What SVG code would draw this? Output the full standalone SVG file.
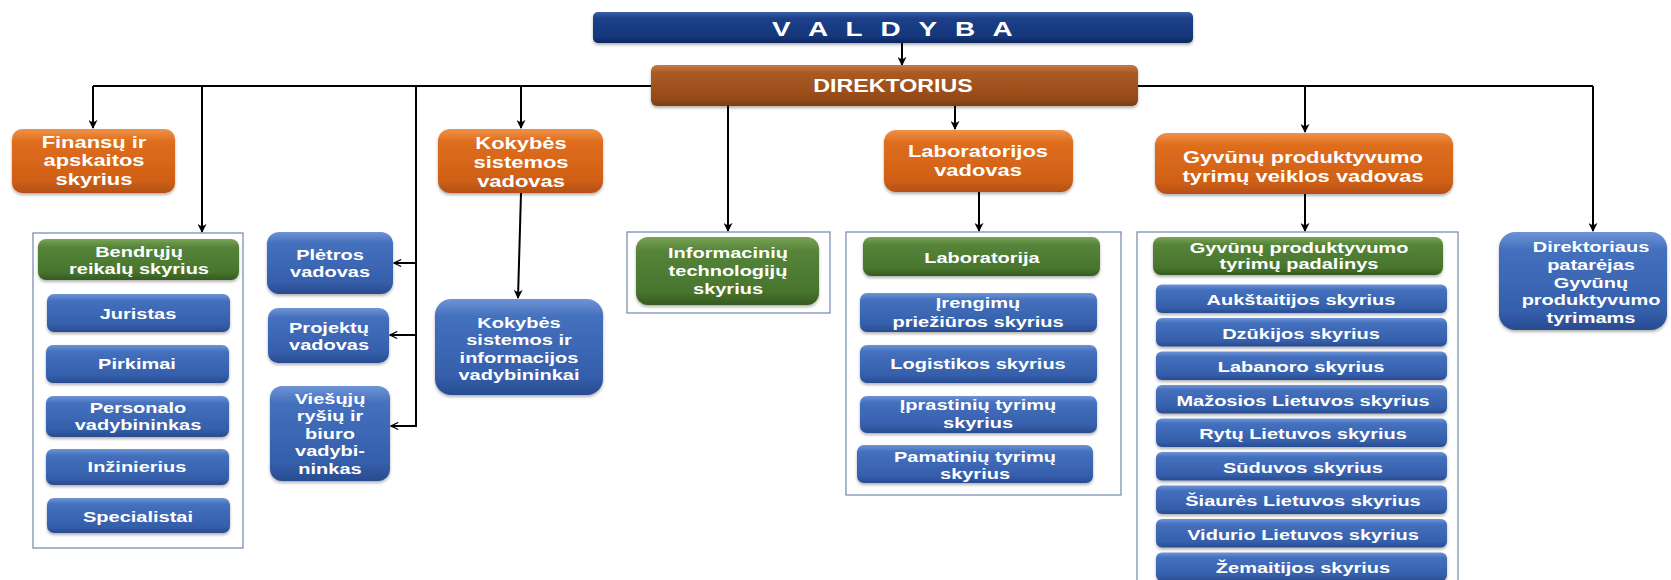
<svg xmlns="http://www.w3.org/2000/svg" width="1671" height="580" viewBox="0 0 1671 580">
<defs>
<style>
.t{font-family:"Liberation Sans",Arial,sans-serif;font-weight:bold;fill:#ffffff;text-anchor:middle;font-size:15.5px}
.tl{font-size:17px}
.blue{fill:url(#gBlue);filter:url(#sh)}
.orange{fill:url(#gOrange);filter:url(#sh)}
.green{fill:url(#gGreen);filter:url(#sh)}
.dir{fill:url(#gDir);filter:url(#sh)}
.val{fill:url(#gVal);filter:url(#sh)}
.cont{fill:#ffffff;stroke:#6f86ad;stroke-width:1.2}
.ln{fill:none;stroke:#000000;stroke-width:2}
</style>
<linearGradient id="gBlue" x1="0" y1="0" x2="0" y2="1">
<stop offset="0" stop-color="#6e94d6"/><stop offset="0.18" stop-color="#4470bd"/><stop offset="0.8" stop-color="#355fab"/><stop offset="1" stop-color="#284c90"/>
</linearGradient>
<linearGradient id="gOrange" x1="0" y1="0" x2="0" y2="1">
<stop offset="0" stop-color="#f0924a"/><stop offset="0.2" stop-color="#de6d1c"/><stop offset="0.8" stop-color="#d06018"/><stop offset="1" stop-color="#b45012"/>
</linearGradient>
<linearGradient id="gGreen" x1="0" y1="0" x2="0" y2="1">
<stop offset="0" stop-color="#7aa355"/><stop offset="0.2" stop-color="#55843a"/><stop offset="0.8" stop-color="#48752d"/><stop offset="1" stop-color="#365b20"/>
</linearGradient>
<linearGradient id="gDir" x1="0" y1="0" x2="0" y2="1">
<stop offset="0" stop-color="#c47a42"/><stop offset="0.2" stop-color="#a95a24"/><stop offset="0.8" stop-color="#974a18"/><stop offset="1" stop-color="#7e3d10"/>
</linearGradient>
<linearGradient id="gVal" x1="0" y1="0" x2="0" y2="1">
<stop offset="0" stop-color="#3a60a8"/><stop offset="0.2" stop-color="#1c408a"/><stop offset="0.8" stop-color="#143679"/><stop offset="1" stop-color="#0c2760"/>
</linearGradient>
<filter id="sh" x="-10%" y="-20%" width="120%" height="150%">
<feDropShadow dx="0" dy="2" stdDeviation="1.5" flood-color="#000000" flood-opacity="0.3"/>
</filter>
<marker id="arr" viewBox="0 0 10 10" refX="9" refY="5" markerUnits="userSpaceOnUse" markerWidth="9" markerHeight="9" orient="auto">
<path d="M0,0 L10,5 L0,10 L3,5 z" fill="#000000"/>
</marker>
<marker id="arrOpen" viewBox="0 0 10 10" refX="9" refY="5" markerUnits="userSpaceOnUse" markerWidth="9" markerHeight="9" orient="auto">
<path d="M1,1 L9,5 L1,9" fill="none" stroke="#000000" stroke-width="1.3"/>
</marker>
</defs>
<rect width="1671" height="580" fill="#ffffff"/>

<g id="connectors">
<path class="ln" d="M902,43 V65" marker-end="url(#arr)"/>
<path class="ln" d="M93,86 H1593"/>
<path class="ln" d="M93,86 V128" marker-end="url(#arr)"/>
<path class="ln" d="M202,86 V232" marker-end="url(#arr)"/>
<path class="ln" d="M416,86 V427"/>
<path class="ln" d="M416,263 H394" marker-end="url(#arrOpen)"/>
<path class="ln" d="M416,335 H390" marker-end="url(#arrOpen)"/>
<path class="ln" d="M416,426 H391" marker-end="url(#arrOpen)"/>
<path class="ln" d="M521,86 V128" marker-end="url(#arr)"/>
<path class="ln" d="M521,193 L518,298" marker-end="url(#arr)"/>
<path class="ln" d="M728,106 V231" marker-end="url(#arr)"/>
<path class="ln" d="M955,106 V129" marker-end="url(#arr)"/>
<path class="ln" d="M979,192 V231" marker-end="url(#arr)"/>
<path class="ln" d="M1305,86 V132" marker-end="url(#arr)"/>
<path class="ln" d="M1305,194 V231" marker-end="url(#arr)"/>
<path class="ln" d="M1593,86 V231" marker-end="url(#arr)"/>
</g>

<g id="valdyba">
<rect class="val" x="593" y="12" width="600" height="31" rx="5"/>
<text class="t" style="font-size:21px;letter-spacing:4px" transform="translate(895,36) scale(1.33,1)">V A L D Y B A</text>
</g>

<g id="direktorius">
<rect class="dir" x="651" y="65" width="487" height="41" rx="6"/>
<text class="t" style="font-size:18px" transform="translate(893,92) scale(1.29,1)">DIREKTORIUS</text>
</g>

<g id="finansu">
<rect class="orange" x="12" y="129" width="163" height="64" rx="10"/>
<text class="t tl" transform="translate(94,148) scale(1.29,1)"><tspan x="0">Finansų ir</tspan><tspan x="0" dy="18.5">apskaitos</tspan><tspan x="0" dy="18.5">skyrius</tspan></text>
</g>

<g id="bendruju-grupe">
<rect class="cont" x="33" y="233" width="210" height="315"/>
</g>
<g id="bendruju">
<rect class="green" x="38" y="239" width="201" height="41" rx="8"/>
<text class="t" transform="translate(139,257) scale(1.29,1)"><tspan x="0">Bendrųjų</tspan><tspan x="0" dy="17.5">reikalų skyrius</tspan></text>
</g>
<g id="juristas">
<rect class="blue" x="47" y="294" width="183" height="38" rx="7"/>
<text class="t" transform="translate(138,319) scale(1.29,1)">Juristas</text>
</g>
<g id="pirkimai">
<rect class="blue" x="46" y="345" width="183" height="38" rx="7"/>
<text class="t" transform="translate(137,369) scale(1.29,1)">Pirkimai</text>
</g>
<g id="personalo">
<rect class="blue" x="46" y="396" width="183" height="41" rx="7"/>
<text class="t" transform="translate(138,413) scale(1.29,1)"><tspan x="0">Personalo</tspan><tspan x="0" dy="17.5">vadybininkas</tspan></text>
</g>
<g id="inzinierius">
<rect class="blue" x="46" y="449" width="183" height="36" rx="7"/>
<text class="t" transform="translate(137,472) scale(1.29,1)">Inžinierius</text>
</g>
<g id="specialistai">
<rect class="blue" x="47" y="498" width="183" height="35" rx="7"/>
<text class="t" transform="translate(138,522) scale(1.29,1)">Specialistai</text>
</g>

<g id="pletros">
<rect class="blue" x="267" y="232" width="126" height="62" rx="12"/>
<text class="t" transform="translate(330,260) scale(1.29,1)"><tspan x="0">Plėtros</tspan><tspan x="0" dy="17">vadovas</tspan></text>
</g>
<g id="projektu">
<rect class="blue" x="268" y="308" width="121" height="55" rx="10"/>
<text class="t" transform="translate(329,333) scale(1.29,1)"><tspan x="0">Projektų</tspan><tspan x="0" dy="17">vadovas</tspan></text>
</g>
<g id="viesuju">
<rect class="blue" x="270" y="386" width="120" height="95" rx="12"/>
<text class="t" transform="translate(330,404) scale(1.29,1)"><tspan x="0">Viešųjų</tspan><tspan x="0" dy="17.5">ryšių ir</tspan><tspan x="0" dy="17.5">biuro</tspan><tspan x="0" dy="17.5">vadybi-</tspan><tspan x="0" dy="17.5">ninkas</tspan></text>
</g>

<g id="kokybes-vadovas">
<rect class="orange" x="438" y="129" width="165" height="64" rx="12"/>
<text class="t tl" transform="translate(521,149) scale(1.29,1)"><tspan x="0">Kokybės</tspan><tspan x="0" dy="19">sistemos</tspan><tspan x="0" dy="19">vadovas</tspan></text>
</g>
<g id="kokybes-vadybininkai">
<rect class="blue" x="435" y="299" width="168" height="96" rx="16"/>
<text class="t" transform="translate(519,328) scale(1.29,1)"><tspan x="0">Kokybės</tspan><tspan x="0" dy="17.5">sistemos ir</tspan><tspan x="0" dy="17.5">informacijos</tspan><tspan x="0" dy="17.5">vadybininkai</tspan></text>
</g>

<g id="it-grupe">
<rect class="cont" x="627" y="232" width="203" height="81"/>
</g>
<g id="it">
<rect class="green" x="636" y="237" width="183" height="68" rx="12"/>
<text class="t" transform="translate(728,258) scale(1.29,1)"><tspan x="0">Informacinių</tspan><tspan x="0" dy="18">technologijų</tspan><tspan x="0" dy="18">skyrius</tspan></text>
</g>

<g id="lab-vadovas">
<rect class="orange" x="884" y="130" width="189" height="62" rx="12"/>
<text class="t tl" transform="translate(978,157) scale(1.29,1)"><tspan x="0">Laboratorijos</tspan><tspan x="0" dy="19">vadovas</tspan></text>
</g>
<g id="lab-grupe">
<rect class="cont" x="846" y="232" width="275" height="263"/>
</g>
<g id="laboratorija">
<rect class="green" x="863" y="237" width="237" height="39" rx="8"/>
<text class="t" transform="translate(982,263) scale(1.29,1)">Laboratorija</text>
</g>
<g id="irengimu">
<rect class="blue" x="860" y="293" width="237" height="39" rx="7"/>
<text class="t" transform="translate(978,308) scale(1.29,1)"><tspan x="0">Įrengimų</tspan><tspan x="0" dy="19">priežiūros skyrius</tspan></text>
</g>
<g id="logistikos">
<rect class="blue" x="860" y="345" width="237" height="38" rx="7"/>
<text class="t" transform="translate(978,369) scale(1.29,1)">Logistikos skyrius</text>
</g>
<g id="iprastiniu">
<rect class="blue" x="860" y="396" width="237" height="37" rx="7"/>
<text class="t" transform="translate(978,410) scale(1.29,1)"><tspan x="0">Įprastinių tyrimų</tspan><tspan x="0" dy="18">skyrius</tspan></text>
</g>
<g id="pamatiniu">
<rect class="blue" x="857" y="445" width="236" height="38" rx="7"/>
<text class="t" transform="translate(975,462) scale(1.29,1)"><tspan x="0">Pamatinių tyrimų</tspan><tspan x="0" dy="17.5">skyrius</tspan></text>
</g>

<g id="gyvunu-vadovas">
<rect class="orange" x="1155" y="133" width="298" height="61" rx="12"/>
<text class="t tl" transform="translate(1303,163) scale(1.29,1)"><tspan x="0">Gyvūnų produktyvumo</tspan><tspan x="0" dy="19">tyrimų veiklos vadovas</tspan></text>
</g>
<g id="gyvunu-grupe">
<rect class="cont" x="1137" y="232" width="321" height="352"/>
</g>
<g id="gyvunu-padalinys">
<rect class="green" x="1153" y="237" width="290" height="38" rx="8"/>
<text class="t" transform="translate(1299,253) scale(1.29,1)"><tspan x="0">Gyvūnų produktyvumo</tspan><tspan x="0" dy="16.5">tyrimų padalinys</tspan></text>
</g>
<g id="aukstaitijos">
<rect class="blue" x="1156" y="284.5" width="291" height="28.5" rx="6"/>
<text class="t" transform="translate(1301,305) scale(1.29,1)">Aukštaitijos skyrius</text>
</g>
<g id="dzukijos">
<rect class="blue" x="1156" y="318" width="291" height="28.5" rx="6"/>
<text class="t" transform="translate(1301,338.5) scale(1.29,1)">Dzūkijos skyrius</text>
</g>
<g id="labanoro">
<rect class="blue" x="1156" y="351.5" width="291" height="28.5" rx="6"/>
<text class="t" transform="translate(1301,372) scale(1.29,1)">Labanoro skyrius</text>
</g>
<g id="mazosios">
<rect class="blue" x="1156" y="385" width="291" height="28.5" rx="6"/>
<text class="t" transform="translate(1303,405.5) scale(1.29,1)">Mažosios Lietuvos skyrius</text>
</g>
<g id="rytu">
<rect class="blue" x="1156" y="418.5" width="291" height="28.5" rx="6"/>
<text class="t" transform="translate(1303,439) scale(1.29,1)">Rytų Lietuvos skyrius</text>
</g>
<g id="suduvos">
<rect class="blue" x="1156" y="452" width="291" height="28.5" rx="6"/>
<text class="t" transform="translate(1303,472.5) scale(1.29,1)">Sūduvos skyrius</text>
</g>
<g id="siaures">
<rect class="blue" x="1156" y="485.5" width="291" height="28.5" rx="6"/>
<text class="t" transform="translate(1303,506) scale(1.29,1)">Šiaurės Lietuvos skyrius</text>
</g>
<g id="vidurio">
<rect class="blue" x="1156" y="519" width="291" height="28.5" rx="6"/>
<text class="t" transform="translate(1303,539.5) scale(1.29,1)">Vidurio Lietuvos skyrius</text>
</g>
<g id="zemaitijos">
<rect class="blue" x="1156" y="552.5" width="291" height="28.5" rx="6"/>
<text class="t" transform="translate(1303,573) scale(1.29,1)">Žemaitijos skyrius</text>
</g>

<g id="patarejas">
<rect class="blue" x="1499" y="232" width="168" height="98" rx="16"/>
<text class="t" transform="translate(1591,252) scale(1.29,1)"><tspan x="0">Direktoriaus</tspan><tspan x="0" dy="17.8">patarėjas</tspan><tspan x="0" dy="17.8">Gyvūnų</tspan><tspan x="0" dy="17.8">produktyvumo</tspan><tspan x="0" dy="17.8">tyrimams</tspan></text>
</g>
</svg>
